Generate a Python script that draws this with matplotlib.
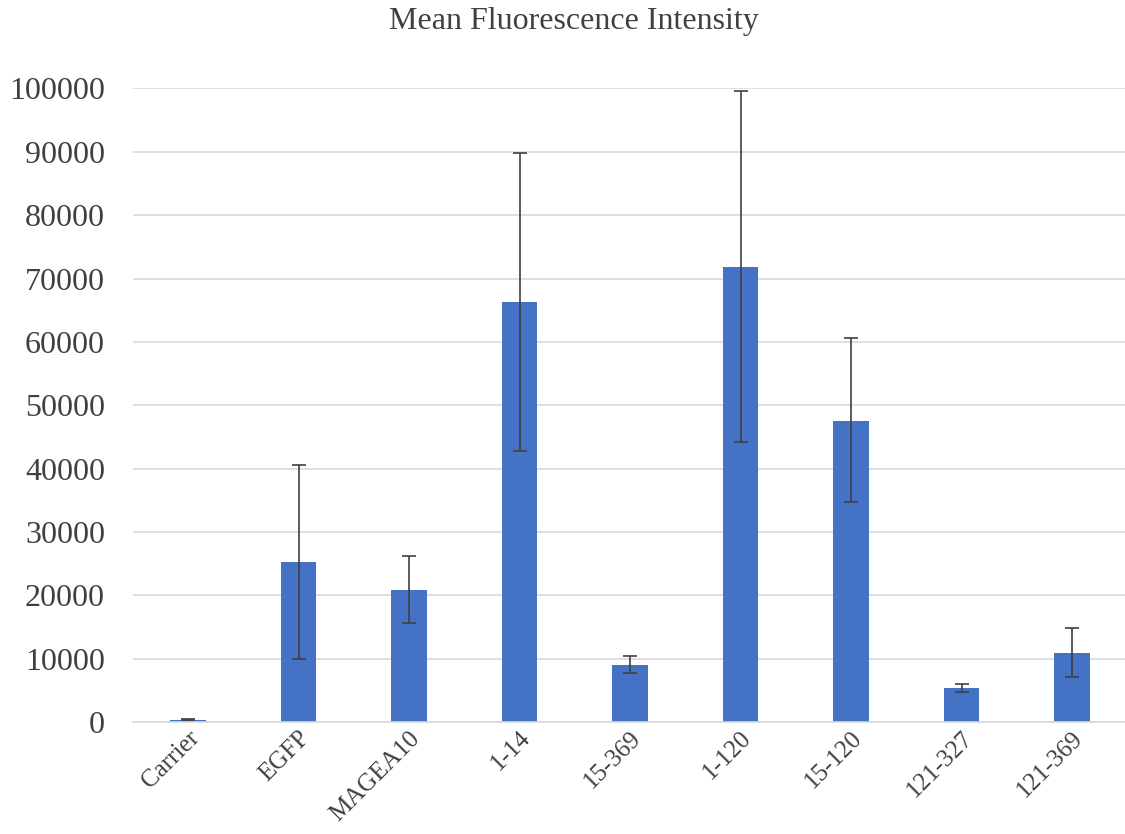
import matplotlib.pyplot as plt
import numpy as np

categories = ['Carrier', 'EGFP', 'MAGEA10', '1-14', '15-369', '1-120', '15-120', '121-327', '121-369']
mfi = [400, 25300, 20900, 66300, 9100, 71800, 47500, 5400, 11000]
err_low = [100, 15300, 5300, 23500, 1400, 27600, 12800, 700, 3900]
err_high = [100, 15300, 5300, 23500, 1400, 27800, 13100, 700, 3900]

plt.rcParams['font.family'] = ['Liberation Serif', 'DejaVu Serif']

fig = plt.figure(figsize=(11.25, 8.34), dpi=100)
ax = fig.add_axes([0.118, 0.134, 0.884, 0.76])

x = np.arange(len(categories))
ax.bar(x, mfi, width=0.32, color='#4472C4', zorder=2)
ax.errorbar(x, mfi, yerr=[err_low, err_high], fmt='none', ecolor='#404040',
            elinewidth=1.2, capsize=5, capthick=1.2, zorder=3)

ax.set_ylim(0, 100000)
ax.set_xlim(-0.5, len(categories) - 0.5)
ax.set_yticks(np.arange(0, 100001, 10000))
ax.yaxis.grid(True, color='#d9d9d9', linewidth=1.2, zorder=0)
ax.set_axisbelow(True)
for s in ['top', 'right', 'left']:
    ax.spines[s].set_visible(False)
ax.spines['bottom'].set_color('#d9d9d9')
ax.spines['bottom'].set_linewidth(1.2)
ax.tick_params(axis='both', length=0, colors='#404040')
ax.tick_params(axis='y', labelsize=23, pad=20)
ax.set_xticks(x)
ax.set_xticklabels(categories, rotation=45, ha='right', rotation_mode='anchor', fontsize=18)

fig.suptitle('Mean Fluorescence Intensity', x=0.51, y=0.974, va='center',
             fontsize=23, color='#404040')

plt.savefig('out.png', dpi=100)
